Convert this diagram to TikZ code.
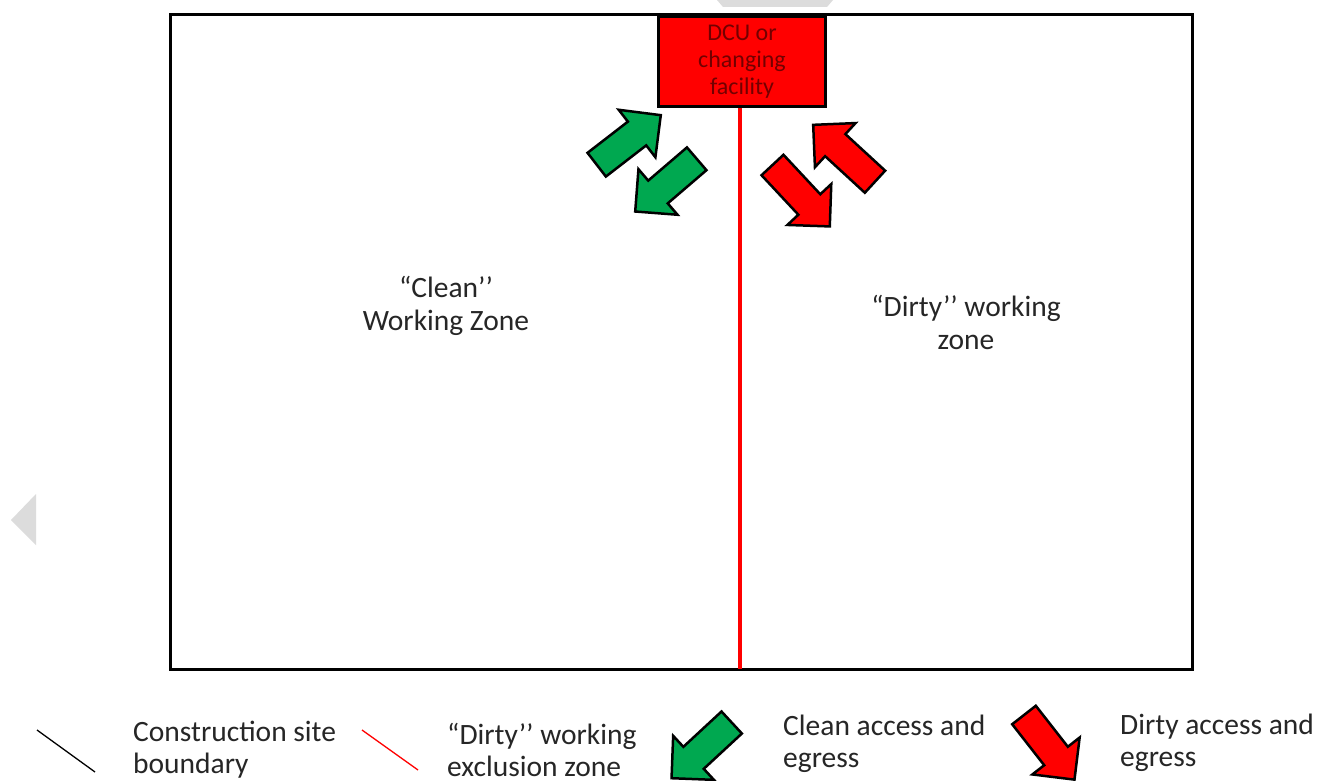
\documentclass[tikz,border=0pt]{standalone}
\usepackage{fontspec}
\setmainfont{Carlito}
\definecolor{cleangreen}{RGB}{0,168,80}
\definecolor{dcutext}{RGB}{115,0,0}
\definecolor{uigrey}{RGB}{220,220,220}
\tikzset{
  blockarrow/.style={draw=black, line width=2.5pt, line join=miter},
  zonelabel/.style={font=\fontsize{29.5}{33}\selectfont, align=center, text=black!85},
  legendlabel/.style={font=\fontsize{29.5}{32}\selectfont, align=left, anchor=west, text=black!85, inner sep=0pt},
  boundary/.style={draw=black, line width=3pt},
}
\newcommand{\myarrow}[5]{% color, tail x, tail y, angle, length
  \draw[blockarrow, fill=#1, shift={(#2,#3)}, rotate=#4]
    (0,-15) -- ({#5-30},-15) -- ({#5-30},-30) -- (#5,0) -- ({#5-30},30) -- ({#5-30},15) -- (0,15) -- cycle;}
\begin{document}
\begin{tikzpicture}[x=1pt,y=-1pt]
\useasboundingbox (0,0) rectangle (1328,781);
\fill[white] (0,0) rectangle (1328,781);
% viewer artefacts
\fill[uigrey] (717,0) -- (833,0) -- (827,7) -- (723,7) -- cycle;
\fill[uigrey] (36,494) -- (36,545) -- (11,520) -- cycle;
% site boundary
\draw[boundary] (170,15) rectangle (1192,669);
% DCU
\node[draw=black, fill=red, line width=3pt, minimum width=167pt, minimum height=90pt,
      anchor=north west, inner sep=0pt, align=center, text=dcutext,
      font=\fontsize{24}{27}\selectfont] (dcu) at (657,15) {DCU or\\changing\\facility};
\coordinate (bottomline) at (740,669);
\draw[red, line width=3.5pt] (dcu.south -| bottomline) -- (bottomline);
% arrows
\myarrow{cleangreen}{596.7}{164.7}{37.7}{81}
\myarrow{cleangreen}{696.7}{158.8}{220.6}{81}
\myarrow{red}{772.5}{165}{-47}{84}
\myarrow{red}{875}{181.7}{137.4}{84}
% zone labels
\node[zonelabel] (clean) at (446,306) {“Clean’’\\Working Zone};
\node[zonelabel] (dirty) at (966,322) {“Dirty’’ working\\zone};
% legend
\coordinate (lb1) at (37,730); \coordinate (lb2) at (95,772);
\draw[black, line width=1.3pt] (lb1) -- (lb2);
\node[legendlabel] (lbtext) at (133,750) {Construction site\\boundary};
\coordinate (lr1) at (362,730); \coordinate (lr2) at (418,770);
\draw[red, line width=1.3pt] (lr1) -- (lr2);
\node[legendlabel] (lrtext) at (447,750) {“Dirty’’ working\\exclusion zone};
\myarrow{cleangreen}{731.7}{722.5}{222.8}{82}
\node[legendlabel] (lgtext) at (783,744) {Clean access and\\egress};
\myarrow{red}{1024}{715}{-52}{82}
\node[legendlabel] (lrdtext) at (1120,743) {Dirty access and\\egress};
\end{tikzpicture}
\end{document}
